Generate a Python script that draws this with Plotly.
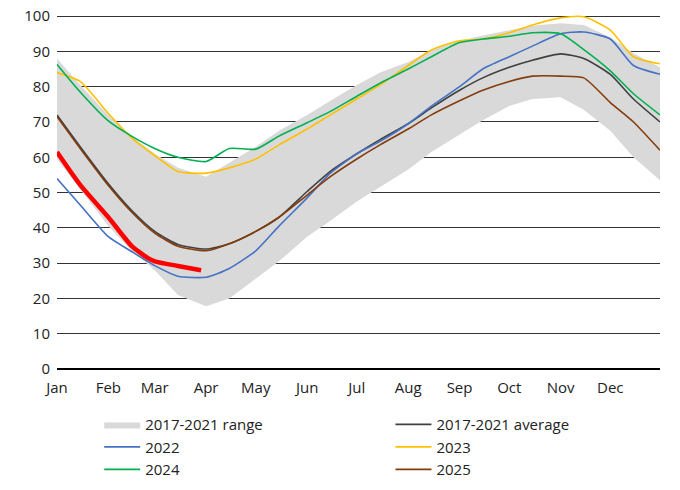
import plotly.graph_objects as go

# sampling dates (non-leap year used only as a calendar for the month axis)
dates = ["2021-01-01", "2021-01-15", "2021-02-01", "2021-02-15", "2021-03-01",
         "2021-03-15", "2021-04-01", "2021-04-15", "2021-05-01", "2021-05-15",
         "2021-06-01", "2021-06-15", "2021-07-01", "2021-07-15", "2021-08-01",
         "2021-08-15", "2021-09-01", "2021-09-15", "2021-10-01", "2021-10-15",
         "2021-11-01", "2021-11-15", "2021-12-01", "2021-12-15", "2021-12-31"]

range_low = [59.5, 51, 40.5, 33.5, 28, 21, 17.8, 20, 25.5, 30.5, 37.5, 42, 47.5,
             51.5, 56.5, 61.5, 66.5, 70.5, 74.5, 76.5, 77, 73.5, 67.5, 60, 53.5]
range_high = [88, 80.5, 72, 66, 61, 57, 54.5, 58.5, 63, 67.5, 72, 76, 80.5,
              84, 87, 90.4, 93, 94.5, 96, 97.3, 98, 97.5, 94, 89.5, 85.5]
avg_17_21 = [72, 63, 52.5, 45, 39, 35.3, 34, 35.5, 39, 43, 50.3, 56, 61,
             65, 69.5, 74, 79, 82.5, 85.5, 87.5, 89.3, 88, 83.5, 76.5, 70]
y2022 = [54, 46.5, 37.5, 33.3, 29.3, 26.3, 26, 28.5, 33.5, 40.5, 48.5, 55.5, 61,
         64.5, 69.5, 74.5, 80, 85, 88.5, 91.5, 95, 95.5, 93.5, 86, 83.5]
y2023 = [84, 81.5, 72.4, 65.5, 60.5, 56, 55.5, 57, 59.5, 63.5, 68, 72, 76.5,
         80.5, 86, 90.4, 93, 93.5, 95.3, 97.5, 99.5, 99.8, 96, 88.5, 86.5]
y2024 = [86.3, 78.5, 70.3, 66, 62.5, 60, 58.8, 62.5, 62.3, 66, 69.8, 73, 77.3,
         81, 85, 88.5, 92.5, 93.5, 94.3, 95.3, 95, 90.5, 84.5, 78, 72]
y2025 = [71.5, 62.5, 52, 44.5, 38.5, 34.8, 33.5, 35.5, 39, 43, 49.3, 54.5, 59.5,
         63.5, 68, 72, 76, 79, 81.5, 83, 83, 82.5, 75.5, 70, 62]

# current year so far (thick red)
current_dates = ["2021-01-01", "2021-01-15", "2021-02-01", "2021-02-15",
                 "2021-02-25", "2021-03-01", "2021-03-15", "2021-03-29"]
current = [61.5, 52.2, 43, 34.9, 31.4, 30.5, 29.2, 28]

FONT = "Open Sans"

fig = go.Figure()

fig.add_trace(go.Scatter(x=dates, y=range_low, mode="lines", line=dict(width=0),
                         showlegend=False, hoverinfo="skip"))
fig.add_trace(go.Scatter(x=dates, y=range_high, mode="lines", line=dict(width=0),
                         fill="tonexty", fillcolor="#d9d9d9",
                         name="2017-2021 range", legend="legend"))

# (name, values, colour, which legend column)
lines = [
    ("2017-2021 average", avg_17_21, "#404040", "legend2"),
    ("2022", y2022, "#4472c4", "legend"),
    ("2023", y2023, "#ffc000", "legend2"),
    ("2024", y2024, "#00b050", "legend"),
    ("2025", y2025, "#843c0c", "legend2"),
]
for name, vals, col, leg in lines:
    fig.add_trace(go.Scatter(x=dates, y=vals, mode="lines", name=name, legend=leg,
                             line=dict(color=col, width=1.6, shape="spline",
                                       smoothing=0.6)))

fig.add_trace(go.Scatter(x=current_dates, y=current, mode="lines",
                         line=dict(color="#ff0000", width=4.5, shape="spline",
                                   smoothing=0.6),
                         showlegend=False))

leg_common = dict(orientation="v", yref="container", yanchor="top", y=0.167,
                  xanchor="left", itemwidth=36, tracegroupgap=0,
                  font=dict(size=15), traceorder="normal",
                  bgcolor="rgba(0,0,0,0)")

fig.update_layout(
    width=680, height=490,
    margin=dict(l=57, r=20, t=14, b=121, autoexpand=False),
    paper_bgcolor="white", plot_bgcolor="white",
    font=dict(family=FONT, size=15, color="#222222"),
    xaxis=dict(type="date", range=["2021-01-01", "2021-12-31"],
               tickformat="%b", dtick="M1", tick0="2021-01-01",
               showgrid=False, showline=False, ticks="",
               ticklabelstandoff=8),
    # a little headroom so the 100 gridline is not dropped at the edge
    yaxis=dict(range=[0, 100.6], dtick=10, showgrid=True,
               gridcolor="#333333", gridwidth=1,
               zeroline=True, zerolinecolor="#000000", zerolinewidth=2,
               showline=False, ticks="", ticklabelstandoff=6),
    legend=dict(x=0.07, **leg_common),
    legend2=dict(x=0.553, **leg_common),
    showlegend=True,
)

# drop the default 8px page margin so the figure sits at the window corner
fig.write_html("out.html", config={"displayModeBar": False},
               post_script="document.body.style.margin='0';")
